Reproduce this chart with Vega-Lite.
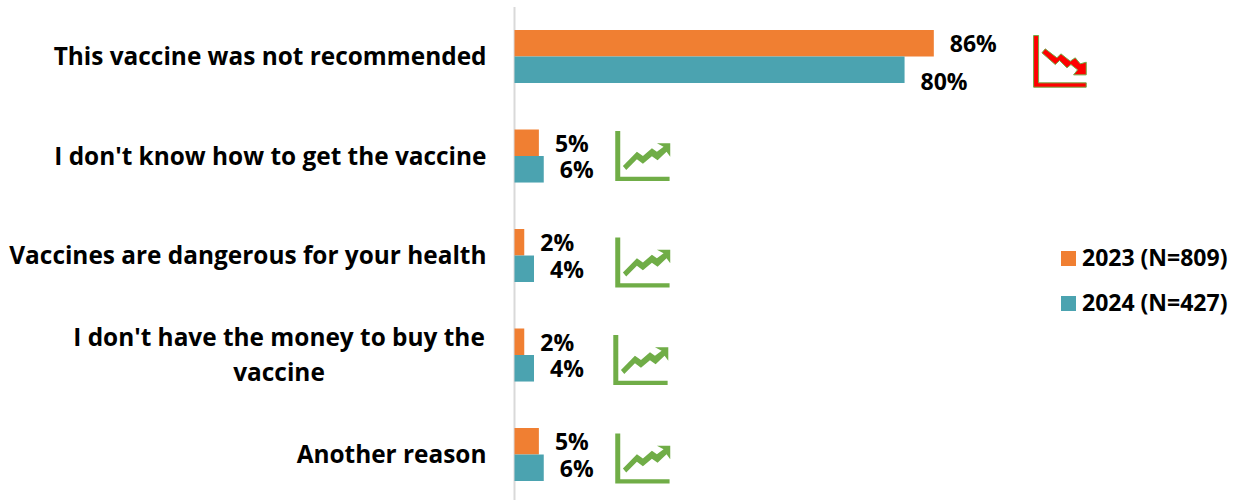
{
"$schema":"https://vega.github.io/schema/vega-lite/v6.json",
"autosize":{"type":"none"},
"padding":{"left":514.5,"top":7,"right":0,"bottom":0},
"width":726.5,"height":493,
"background":"white",
"config":{"view":{"stroke":null},"font":"Open Sans"},
"data":{"values":[
{"reason":"This vaccine was not recommended","year":"2023 (N=809)","value":0.86},
{"reason":"This vaccine was not recommended","year":"2024 (N=427)","value":0.80},
{"reason":"I don't know how to get the vaccine","year":"2023 (N=809)","value":0.05},
{"reason":"I don't know how to get the vaccine","year":"2024 (N=427)","value":0.06},
{"reason":"Vaccines are dangerous for your health","year":"2023 (N=809)","value":0.02},
{"reason":"Vaccines are dangerous for your health","year":"2024 (N=427)","value":0.04},
{"reason":"I don't have the money to buy the vaccine","year":"2023 (N=809)","value":0.02},
{"reason":"I don't have the money to buy the vaccine","year":"2024 (N=427)","value":0.04},
{"reason":"Another reason","year":"2023 (N=809)","value":0.05},
{"reason":"Another reason","year":"2024 (N=427)","value":0.06}
]},
"encoding":{
"y":{"field":"reason","type":"nominal","sort":null,"title":null,
"scale":{"paddingInner":0.467,"paddingOuter":0.211,"align":0.548},
"axis":{"ticks":false,"translate":0,"domainColor":"#d9d9d9","domainWidth":2,"labelPadding":28,"labelOffset":2,"labelFontSize":24.4,"labelFontWeight":700,"labelColor":"#000000","labelFont":"Open Sans","labelLimit":520,
"labelExpr":"datum.value == \"I don't have the money to buy the vaccine\" ? '' : datum.value"}},
"x":{"field":"value","type":"quantitative","axis":null,"scale":{"domain":[0,1.49],"nice":false,"zero":true}}
},
"layer":[
{"mark":{"type":"bar"},
"encoding":{"yOffset":{"field":"year","type":"nominal","sort":null},
"color":{"field":"year","type":"nominal","sort":null,"scale":{"range":["#f07f32","#4ba3b0"]},
"legend":{"title":null,"orient":"none","legendX":542.5,"legendY":240,"symbolType":"square","symbolSize":225,"symbolStrokeWidth":0,"labelFontSize":23,"labelFontWeight":700,"labelColor":"#000000","labelFont":"Open Sans","rowPadding":21,"labelOffset":2,"labelLimit":200}}}},
{"transform":[{"filter":"datum.year == '2023 (N=809)' && datum.reason == \"I don't have the money to buy the vaccine\""}],
"mark":{"type":"text","align":"center","baseline":"middle","dx":-235.5,"dy":11,"lineHeight":35,"fontSize":24.4,"fontWeight":700,"color":"#000000"},
"encoding":{"x":{"datum":0},"yOffset":{"value":0},"text":{"value":["I don't have the money to buy the","vaccine"]}}},
{"transform":[{"filter":"datum.value != 0.8"}],
"mark":{"type":"text","align":"left","baseline":"middle","dx":16,"dy":2,"fontSize":23,"fontWeight":700,"color":"#000000"},
"encoding":{"yOffset":{"field":"year","type":"nominal","sort":null},"text":{"field":"value","type":"quantitative","format":".0%"}}},
{"transform":[{"filter":"datum.value == 0.8"}],
"mark":{"type":"text","align":"left","baseline":"middle","dx":16,"dy":13,"fontSize":23,"fontWeight":700,"color":"#000000"},
"encoding":{"yOffset":{"field":"year","type":"nominal","sort":null},"text":{"field":"value","type":"quantitative","format":".0%"}}},
{"transform":[{"filter":"datum.year == '2023 (N=809)' && datum.reason == 'This vaccine was not recommended'"}],
"mark":{"type":"point","filled":true,"size":2916,"yOffset":5,"color":"#ff0000","stroke":"#70ad47","strokeWidth":1,"opacity":1,
"shape":"M-1 -0.963L-0.815 -0.963L-0.815 0.79L0.95 0.79L0.95 0.95L-1 0.95ZM-0.568 -0.469L-0.136 -0.136L0.012 -0.284L0.358 -0.012L0.543 -0.136L0.728 0.086L0.95 0.025L0.95 0.494L0.481 0.494L0.63 0.309L0.383 0.111L0.235 0.235L-0.037 -0.037L-0.198 0.111L-0.691 -0.321Z"},
"encoding":{"x":{"datum":1.12}}},
{"transform":[{"filter":"datum.year == '2023 (N=809)' && datum.reason == \"I don't know how to get the vaccine\""}],
"mark":{"type":"point","filled":true,"size":2916,"color":"#70ad47","opacity":1,
"shape":"M-1 -0.926L-0.815 -0.926L-0.815 0.765L1.012 0.765L1.012 0.926L-1 0.926ZM-0.716 0.37L-0.198 -0.16L0.025 0L0.358 -0.284L0.543 -0.16L0.79 -0.34L0.543 -0.469L1.037 -0.469L1.037 0.025L0.9 -0.16L0.568 0.16L0.358 0.012L0.025 0.284L-0.198 0.123L-0.593 0.52Z"},
"encoding":{"x":{"datum":0.262}}},
{"transform":[{"filter":"datum.year == '2023 (N=809)' && datum.reason == 'Vaccines are dangerous for your health'"}],
"mark":{"type":"point","filled":true,"size":2916,"yOffset":7,"color":"#70ad47","opacity":1,
"shape":"M-1 -0.926L-0.815 -0.926L-0.815 0.765L1.012 0.765L1.012 0.926L-1 0.926ZM-0.716 0.37L-0.198 -0.16L0.025 0L0.358 -0.284L0.543 -0.16L0.79 -0.34L0.543 -0.469L1.037 -0.469L1.037 0.025L0.9 -0.16L0.568 0.16L0.358 0.012L0.025 0.284L-0.198 0.123L-0.593 0.52Z"},
"encoding":{"x":{"datum":0.262}}},
{"transform":[{"filter":"datum.year == '2023 (N=809)' && datum.reason == \"I don't have the money to buy the vaccine\""}],
"mark":{"type":"point","filled":true,"size":2916,"yOffset":5,"color":"#70ad47","opacity":1,
"shape":"M-1 -0.926L-0.815 -0.926L-0.815 0.765L1.012 0.765L1.012 0.926L-1 0.926ZM-0.716 0.37L-0.198 -0.16L0.025 0L0.358 -0.284L0.543 -0.16L0.79 -0.34L0.543 -0.469L1.037 -0.469L1.037 0.025L0.9 -0.16L0.568 0.16L0.358 0.012L0.025 0.284L-0.198 0.123L-0.593 0.52Z"},
"encoding":{"x":{"datum":0.258}}},
{"transform":[{"filter":"datum.year == '2023 (N=809)' && datum.reason == 'Another reason'"}],
"mark":{"type":"point","filled":true,"size":2916,"yOffset":4,"color":"#70ad47","opacity":1,
"shape":"M-1 -0.926L-0.815 -0.926L-0.815 0.765L1.012 0.765L1.012 0.926L-1 0.926ZM-0.716 0.37L-0.198 -0.16L0.025 0L0.358 -0.284L0.543 -0.16L0.79 -0.34L0.543 -0.469L1.037 -0.469L1.037 0.025L0.9 -0.16L0.568 0.16L0.358 0.012L0.025 0.284L-0.198 0.123L-0.593 0.52Z"},
"encoding":{"x":{"datum":0.262}}}
]
}
